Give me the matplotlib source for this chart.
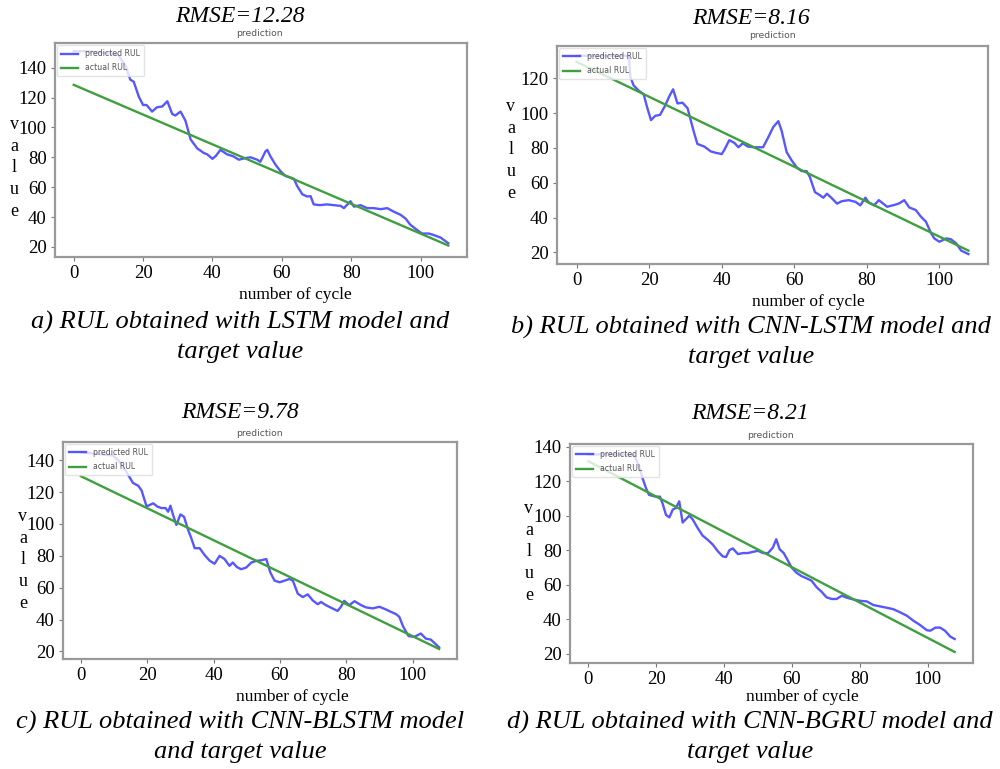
import matplotlib
matplotlib.use('Agg')
import matplotlib.pyplot as plt

# ---------------- data ----------------
x_ticks = [0, 20, 40, 60, 80, 100]
act_cyc = [0, 108]

a_cyc = [0, 4, 8, 12, 13, 15, 16.3, 17.3, 18.75, 20, 21, 22.6, 24, 25.5, 27, 28.4, 29.3, 30.8,
         32.2, 33.7, 35.6, 37.5, 38.5, 40, 41, 42.3, 44.2, 46, 47.6, 49.5, 51, 52.9, 53.8, 55.3,
         55.8, 56.7, 58.2, 59.6, 61, 62.5, 63.5, 64.4, 65.9, 67.3, 68.3, 69.2, 71, 73, 75, 77,
         77.9, 79.8, 80.8, 82.7, 84.6, 86.5, 88.5, 90.4, 92.3, 94.2, 95.7, 97, 99, 100.4, 102.4,
         103.8, 105.8, 108]
a_pred = [151, 151, 150, 149, 148, 141, 132, 130.6, 120.7, 115, 115, 110.6, 113.5, 114, 117.5,
          109, 108, 110.6, 104.6, 92, 86, 82.9, 82, 79, 81, 85, 82, 80.7, 78.4, 79.5, 80, 78.4,
          77, 84, 85, 80.7, 75, 70.8, 67.6, 66.5, 65.5, 60.9, 55.3, 53.8, 54, 48.5, 48, 48.5,
          48, 47.5, 46, 50.6, 47, 48, 46, 46, 45.3, 46, 43.6, 41.6, 39, 35, 31.4, 29, 29, 28,
          26.3, 22.5]
a_act = [128.5, 21]

b_cyc = [0, 5, 10, 14.4, 14.8, 15.7, 17.1, 18.5, 19.4, 20.5, 21.7, 23, 24.5, 25.5, 26.6, 27.8,
         29.2, 30.6, 31.7, 32.4, 33.3, 35.2, 37, 38.4, 40, 40.7, 42.1, 43.5, 44.6, 45.8, 47.2,
         49, 51.4, 52.8, 54.2, 55.6, 56.5, 57.9, 59.3, 60.6, 62, 63.4, 64.3, 65.7, 67.1, 68,
         69, 70.4, 71.8, 73.1, 75, 76.9, 78.2, 79.6, 80.6, 82, 83.3, 85.6, 87.5, 88.9, 90.3,
         91.7, 93.5, 94.9, 96.3, 97.7, 98.6, 100, 101.9, 103.2, 104.6, 106, 108]
b_pred = [133, 133, 133, 133, 121, 116, 113, 110.8, 103.7, 96, 98.5, 99, 104.7, 109.5, 113.7,
          105.6, 106, 102.8, 94, 88.6, 82.3, 80.8, 78, 77.2, 76.5, 78.8, 84.5, 82.9, 80.4, 82.7,
          80.8, 80.4, 80.4, 86, 92, 95.4, 90, 77.6, 72.8, 69, 66.7, 66.7, 63.3, 54.6, 52.8,
          51.4, 53.7, 51, 48, 49.4, 50, 49, 47, 51.4, 48.5, 47, 50, 46.2, 47.2, 48.1, 50, 45.8,
          44.3, 40.5, 37.6, 31, 28, 26.1, 28, 27.5, 25.2, 21, 19]
b_act = [129.5, 21]

c_cyc = [0, 5, 9.7, 11.7, 13.7, 15.7, 17.3, 18.3, 19.8, 20.8, 21.8, 23, 24.3, 25.5, 26.3, 27,
         27.8, 28.8, 30, 31.1, 32.3, 33.3, 34.3, 35.8, 37.3, 38.8, 40.3, 41.8, 43.3, 44.8,
         45.8, 47, 48.3, 49.8, 51.4, 52.8, 54.4, 55.9, 57.1, 58.4, 59.9, 61.4, 62.9, 63.9,
         65.4, 66.9, 68.4, 69.9, 71.4, 72.4, 73.9, 75.9, 77.4, 78.4, 79.4, 80.9, 82.5, 84.5,
         86, 88, 90, 92, 93.5, 95, 96, 97.2, 98.8, 100.5, 102.5, 104, 105.5, 108]
c_pred = [145, 144, 143, 139, 132.7, 125.8, 124, 121, 111, 112, 113, 111, 110, 110, 107.7,
          111.5, 105.6, 99.4, 106, 104.5, 96.4, 91, 84.8, 84.8, 80.5, 77, 75, 80, 78, 73.7,
          75.8, 73, 71.6, 72.6, 75.8, 76.8, 77.2, 78, 69.6, 64.4, 63.4, 64.4, 65.5, 64.4, 56.2,
          54.1, 55.8, 52, 49.6, 51, 49, 46.9, 45.4, 48, 51.7, 49, 51.5, 49, 47.6, 47, 48, 46.3,
          44.8, 43.4, 41.7, 35.4, 29.6, 29.1, 31.2, 28, 27.4, 22.5]
c_act = [130, 21.5]

d_cyc = [0, 7, 13.5, 15, 16, 17, 17.9, 19.9, 21.1, 21.9, 22.9, 23.9, 24.9, 25.8, 26.8, 27.8,
         28.8, 29.8, 30.8, 32.2, 33.7, 35.2, 36.7, 38.2, 39.6, 40.6, 41.6, 42.6, 44.1, 45.6,
         47, 48.5, 50, 51.5, 53, 54.4, 55.4, 56.4, 57.6, 58.6, 59.9, 61.3, 62.8, 64.3, 65.8,
         67.3, 68.7, 70.2, 71.7, 73.2, 74.7, 76.1, 77.6, 79.1, 80.6, 82.1, 84, 86, 88, 89.9,
         91.9, 93.9, 95.9, 97.8, 99.8, 100.8, 102.3, 103.7, 105.2, 106.7, 108]
d_pred = [135.5, 135.5, 135.2, 128.4, 121.6, 115.9, 112, 111, 111, 107, 100.4, 99, 103.5,
          104.4, 108.3, 96, 98, 100, 97.7, 92.9, 88.4, 86, 83.2, 79.3, 76.4, 76, 80, 81, 77.7,
          78.3, 78.3, 79, 79.6, 78.3, 78.3, 81.5, 86.3, 80.5, 78.3, 74.8, 70, 67, 65, 63.7,
          62.3, 58.5, 56, 52.7, 51.7, 51.7, 53.6, 52.5, 51.7, 51, 50.5, 50.3, 48.2, 47.4, 46.6,
          45.8, 44, 42, 39, 36.6, 33.6, 33.3, 35.1, 35.1, 33.2, 29.9, 28.5]
d_act = [131.5, 21]

rmse_labels = ['RMSE=12.28', 'RMSE=8.16', 'RMSE=9.78', 'RMSE=8.21']
captions = [['a) RUL obtained with LSTM model and', 'target value'],
            ['b) RUL obtained with CNN-LSTM model and', 'target value'],
            ['c) RUL obtained with CNN-BLSTM model', 'and target value'],
            ['d) RUL obtained with CNN-BGRU model and', 'target value']]
y_ticks = [[20, 40, 60, 80, 100, 120, 140], [20, 40, 60, 80, 100, 120],
           [20, 40, 60, 80, 100, 120, 140], [20, 40, 60, 80, 100, 120, 140]]
series = [(a_cyc, a_pred, a_act), (b_cyc, b_pred, b_act),
          (c_cyc, c_pred, c_act), (d_cyc, d_pred, d_act)]

# ---------------- layout (pixels) ----------------
W, H = 1000, 769
fig = plt.figure(figsize=(W / 100, H / 100), dpi=100)

layout = [
    dict(box=(55, 43, 467, 257), ylim=(13.3, 156.5), rmse=(240, 17), ptitle=(259, 34),
         xlab=(295, 295), ylab=(14, 168), cap=(240, 322, 352)),
    dict(box=(557, 46, 988, 264), ylim=(13.3, 138.6), rmse=(751, 18), ptitle=(772, 36),
         xlab=(808, 302), ylab=(511, 150), cap=(751, 327, 357)),
    dict(box=(63, 442, 457, 659), ylim=(15.2, 151.5), rmse=(240, 413), ptitle=(259, 433),
         xlab=(292, 697), ylab=(23, 560), cap=(240, 722, 752)),
    dict(box=(570, 444, 973, 663), ylim=(14.6, 141.5), rmse=(750, 414), ptitle=(770, 436),
         xlab=(802, 697), ylab=(529, 552), cap=(750, 722, 752)),
]

SERIF = 'Liberation Serif'


def ftext(x, y, s, **kw):
    fig.text(x / W, 1 - y / H, s, **kw)


for i, (lay, (cyc, pred, act)) in enumerate(zip(layout, series)):
    l, t, r, b = lay['box']
    ax = fig.add_axes([l / W, 1 - b / H, (r - l) / W, (b - t) / H])
    ax.plot(cyc, pred, color='#3a3aff', lw=1.7, alpha=0.85, label='predicted RUL')
    ax.plot(act_cyc, act, color='#3f9f3f', lw=1.7, label='actual RUL')
    ax.set_xlim(-5.4, 113.4)
    ax.set_ylim(*lay['ylim'])
    ax.set_xticks(x_ticks)
    ax.set_yticks(y_ticks[i])
    for lab in ax.get_xticklabels() + ax.get_yticklabels():
        lab.set_fontfamily(SERIF)
        lab.set_fontsize(13.5)
    ax.tick_params(length=3, width=0.8, color='#777777', pad=3)
    for sp in ax.spines.values():
        sp.set_color('#999999')
        sp.set_linewidth(1.6)
    leg = ax.legend(loc='upper left', fontsize=5.6, frameon=True, borderpad=0.5,
                    handlelength=2.2, labelspacing=0.65, borderaxespad=0.3,
                    handletextpad=0.9)
    leg.get_frame().set_edgecolor('#dddddd')
    for txt in leg.get_texts():
        txt.set_color('#555555')

    ftext(*lay['rmse'], rmse_labels[i], ha='center', va='center', fontsize=17,
          family=SERIF, style='italic')
    ftext(*lay['ptitle'], 'prediction', ha='center', va='center', fontsize=6.7,
          color='#555555')
    ftext(*lay['xlab'], 'number of cycle', ha='center', va='center', fontsize=12.5,
          family=SERIF)
    ftext(*lay['ylab'], 'v\na\nl\nu\ne', ha='center', va='center', fontsize=13,
          family=SERIF, linespacing=1.35)
    cx, cy1, cy2 = lay['cap']
    ftext(cx, cy1, captions[i][0], ha='center', va='center', fontsize=19,
          family=SERIF, style='italic')
    ftext(cx, cy2, captions[i][1], ha='center', va='center', fontsize=19,
          family=SERIF, style='italic')

fig.savefig('out.png', dpi=100, facecolor='white')
